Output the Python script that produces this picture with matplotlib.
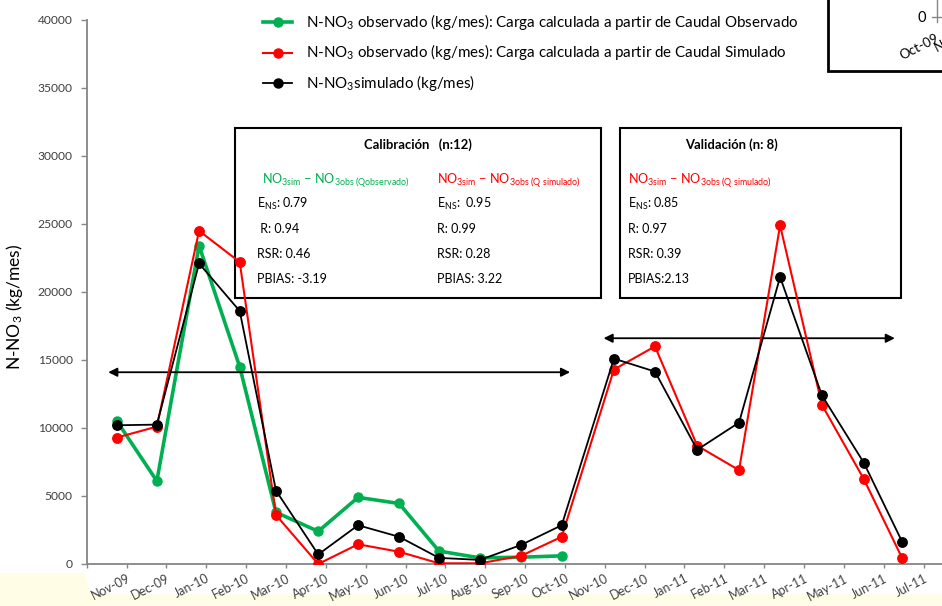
import numpy as np
import matplotlib.pyplot as plt
from matplotlib.lines import Line2D
from matplotlib.patches import Rectangle, Polygon

plt.rcParams['font.family'] = ['Lato', 'DejaVu Sans']
plt.rcParams['mathtext.fontset'] = 'custom'
plt.rcParams['mathtext.rm'] = 'Lato'
plt.rcParams['mathtext.it'] = 'Lato:italic'
plt.rcParams['mathtext.bf'] = 'Lato:bold'
plt.rcParams['mathtext.default'] = 'regular'

# etiquetas del eje x (meses desde Oct-09)
meses = ['Oct-09', 'Nov-09', 'Dec-09', 'Jan-10', 'Feb-10', 'Mar-10', 'Apr-10',
         'May-10', 'Jun-10', 'Jul-10', 'Aug-10', 'Sep-10', 'Oct-10', 'Nov-10',
         'Dec-10', 'Jan-11', 'Feb-11', 'Mar-11', 'Apr-11', 'May-11', 'Jun-11',
         'Jul-11']

# fecha de cada muestreo, en meses desde Oct-09
t_cal = [0.76, 1.76, 2.82, 3.84, 4.75, 5.81, 6.81, 7.84, 8.84, 9.87, 10.90, 11.92]
t_val = [13.23, 14.26, 15.32, 16.37, 17.40, 18.45, 19.50, 20.46]

# carga N-NO3 (kg/mes)
obs_q_obs = [10500, 6100, 23400, 14500, 3800, 2400, 4900, 4450, 950, 450, 500, 600]
obs_q_sim = [9300, 10100, 24500, 22200, 3600, 0, 1450, 900, 50, 50, 600, 2000,
             14300, 16000, 8700, 6900, 24900, 11700, 6250, 450]
simulado = [10200, 10250, 22100, 18600, 5400, 700, 2850, 2000, 450, 300, 1400, 2850,
            15100, 14150, 8400, 10400, 21100, 12400, 7450, 1650]

# periodos de calibracion y validacion (flechas)
periodo_cal = (0.54, 12.13)
periodo_val = (12.97, 20.28)

VERDE = '#00B050'
ROJO = '#FF0000'
GRIS = '#868686'
TXT = '#404040'

W, H = 942, 606
fig = plt.figure(figsize=(W / 100, H / 100), dpi=100)


def px(x, y):
    return x / W, 1 - y / H


# fondo amarillo de abajo
fig.patches.append(Polygon([px(0, 606), px(0, 573), px(84, 573), px(90, 594),
                            px(942, 594), px(942, 606)], closed=True,
                           transform=fig.transFigure, facecolor='#FFFDE6',
                           edgecolor='none', zorder=-5))

ax = fig.add_axes([86.7 / W, (H - 564) / H, 22 * 39.85 / W, 544 / H])
ax.set_facecolor('none')

t_all = t_cal + t_val
ax.plot(t_cal, obs_q_obs, color=VERDE, lw=2.6, marker='o', ms=6.5, zorder=3)
ax.plot(t_all, obs_q_sim, color=ROJO, lw=1.5, marker='o', ms=6.8, zorder=4)
ax.plot(t_all, simulado, color='black', lw=1.3, marker='o', ms=6.8, zorder=5)

for a, b, y in [(periodo_cal[0], periodo_cal[1], 14100), (periodo_val[0], periodo_val[1], 16600)]:
    ax.annotate('', xy=(a, y), xytext=(b, y),
                arrowprops=dict(arrowstyle='<|-|>', color='black', lw=1.3,
                                mutation_scale=13, shrinkA=0, shrinkB=0))

ax.set_xlim(0, 22)
ax.set_ylim(0, 40000)
ax.set_yticks(np.arange(0, 40001, 5000))
ax.set_xticks(np.arange(len(meses)))
ax.set_xticklabels([''] + meses[1:], rotation=27, ha='right', va='top',
                   rotation_mode='anchor')
for s in ['top', 'right']:
    ax.spines[s].set_visible(False)
for s in ['left', 'bottom']:
    ax.spines[s].set_color(GRIS)
    ax.spines[s].set_linewidth(1.3)
ax.tick_params(axis='y', direction='out', length=4, width=1, color=GRIS,
               labelsize=8.7, labelcolor=TXT, pad=6)
ax.tick_params(axis='x', direction='out', length=3, width=1, color=GRIS,
               labelsize=9, labelcolor=TXT, pad=3)
ax.set_ylabel('N-NO$_3$ (kg/mes)', fontsize=12.5, color='black', va='center')
ax.yaxis.set_label_coords(-72 / (22 * 39.85), (564 - 307) / 544)

# leyenda
leyenda = [(VERDE, 2.6, 'N-NO$_3$ observado (kg/mes): Carga calculada a partir de Caudal Observado'),
           (ROJO, 1.5, 'N-NO$_3$ observado (kg/mes): Carga calculada a partir de Caudal Simulado'),
           ('black', 1.3, 'N-NO$_3$simulado (kg/mes)')]
for i, (c, lw, lab) in enumerate(leyenda):
    y = 22 + 30.5 * i
    x0, y0 = px(263, y)
    x1, _ = px(292, y)
    fig.lines.append(Line2D([x0, x1], [y0, y0], color=c, lw=lw, transform=fig.transFigure))
    fig.lines.append(Line2D([(x0 + x1) / 2], [y0], color=c, marker='o', ms=6.5,
                            transform=fig.transFigure))
    fig.text(*px(306, y), lab, fontsize=10.9, va='center', ha='left')


def caja(x0, y0, x1, y1):
    fig.patches.append(Rectangle(px(x0, y1), (x1 - x0) / W, (y1 - y0) / H,
                                 transform=fig.transFigure, facecolor='white',
                                 edgecolor='black', lw=1.5, zorder=-2))


caja(235, 128, 601, 298)
caja(620, 128, 901, 298)

form_obs = r'NO$_{3sim}$ $-$ NO$_{3obs\ (Q observado)}$'
form_sim = r'NO$_{3sim}$ $-$ NO$_{3obs\ (Q\ simulado)}$'

fig.text(*px(418, 145), 'Calibración   (n:12)', fontsize=9.4, fontweight='bold',
         ha='center', va='center', zorder=-1)
fig.text(*px(731, 145), 'Validación (n: 8)', fontsize=9.4, fontweight='bold',
         ha='center', va='center', zorder=-1)

filas_y = [204, 229, 254, 279]
col1 = ['E$_{NS}$: 0.79', ' R: 0.94', 'RSR: 0.46', 'PBIAS: -3.19']
col2 = ['E$_{NS}$:  0.95', 'R: 0.99', 'RSR: 0.28', 'PBIAS: 3.22']
col3 = ['E$_{NS}$: 0.85', 'R: 0.97', 'RSR: 0.39', 'PBIAS:2.13']

fig.text(*px(262, 181), form_obs, fontsize=9.1, color=VERDE, va='center', zorder=-1)
fig.text(*px(437, 181), form_sim, fontsize=9.1, color=ROJO, va='center', zorder=-1)
fig.text(*px(628, 181), form_sim, fontsize=9.1, color=ROJO, va='center', zorder=-1)
for x, col in [(257, col1), (437, col2), (628, col3)]:
    for y, s in zip(filas_y, col):
        fig.text(*px(x, y), s, fontsize=9, va='center', ha='left', zorder=-1)

# recuadro de otro grafico en la esquina superior derecha
fig.patches.append(Rectangle(px(828, 71), 0.2, 0.2, transform=fig.transFigure,
                             facecolor='white', edgecolor='black', lw=2, zorder=6))
fig.lines.append(Line2D([937 / W, 937 / W], [1, 1 - 22 / H], color=GRIS, lw=1,
                        transform=fig.transFigure, zorder=7))
fig.lines.append(Line2D([932 / W, 942 / W], [1 - 17 / H, 1 - 17 / H], color=GRIS, lw=1,
                        transform=fig.transFigure, zorder=7))
fig.text(*px(926, 18), '0', fontsize=10.5, ha='right', va='center', zorder=7)
fig.text(*px(935, 32), 'Oct-09', fontsize=9.5, rotation=27, ha='right', va='top',
         rotation_mode='anchor', zorder=7)
fig.text(*px(941, 38), 'N', fontsize=9.5, rotation=27, ha='right', va='top',
         rotation_mode='anchor', zorder=7)

fig.savefig('out.png', dpi=100)
